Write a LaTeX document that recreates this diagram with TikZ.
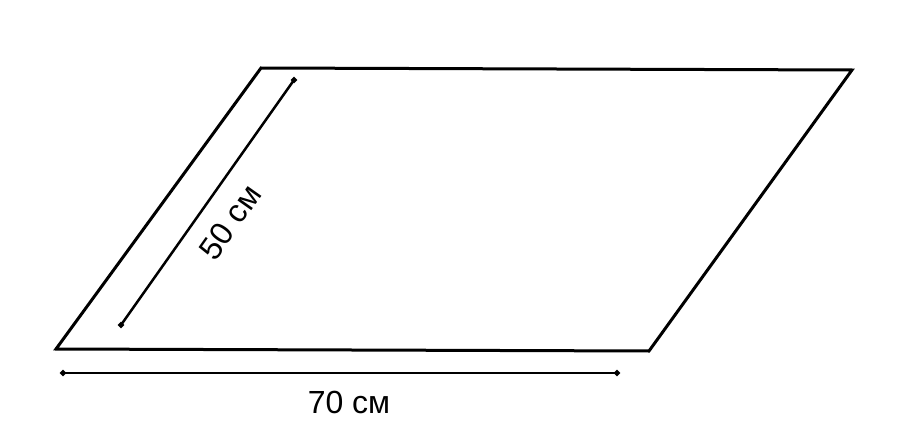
\documentclass[tikz,border=0pt]{standalone}
\usetikzlibrary{shapes.geometric}
\usepackage{fontspec}
\setmainfont{Liberation Sans}
\begin{document}
\begin{tikzpicture}[x=1pt,y=-1pt,
  edge/.style={line width=3pt,line join=miter},
  dim/.style={line width=2.5pt},
  tip/.style={fill,diamond,inner sep=0pt,minimum size=7pt},
  lbl/.style={font=\fontsize{32}{36}\selectfont,inner sep=0pt}]
\useasboundingbox (0,0) rectangle (900,436);
\coordinate (tl) at (261,68);
\coordinate (tr) at (852,70);
\coordinate (br) at (649,351);
\coordinate (bl) at (56,349);
\draw[edge] (tl) -- (tr) -- (br) -- (bl) -- cycle;
\path (121,325) node[tip,draw=none] (a1) {} (294,80) node[tip,draw=none] (a2) {};
\draw[dim] (a1.center) -- (a2.center);
\path (63,373) node[tip,draw=none] (b1) {} (617,373) node[tip,draw=none] (b2) {};
\draw[dim] (b1.center) -- (b2.center);
\node[lbl,rotate=54.8] (t50) at (230,222) {50 см};
\node[lbl,anchor=base] (t70) at (349,413) {70 см};
\end{tikzpicture}
\end{document}
